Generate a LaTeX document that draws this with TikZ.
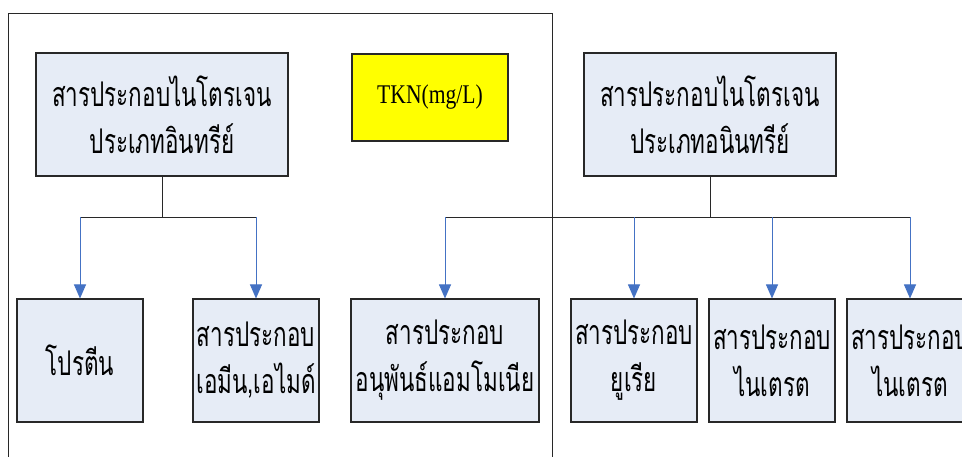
\documentclass[tikz,border=0pt]{standalone}
\usepackage{fontspec}
\setmainfont{Liberation Serif}
\newfontfamily\thai[Script=Thai,FakeStretch=0.66]{Loma}
\newfontfamily\tkn[FakeStretch=0.8]{Liberation Serif}
\usetikzlibrary{arrows.meta}
\definecolor{boxfill}{RGB}{230,236,246}
\definecolor{arrblue}{RGB}{68,114,196}
\definecolor{tknyellow}{RGB}{255,255,0}
\definecolor{linegray}{RGB}{40,40,40}
\tikzset{
  box/.style={draw=linegray, line width=1.1pt, fill=boxfill, inner sep=0pt, align=center, font=\thai\fontsize{34}{47}\selectfont},
  tree/.style={draw=linegray, line width=1pt},
  arr/.style={draw=arrblue, line width=1pt, -{Triangle[width=12pt,length=14pt]}},
}
\begin{document}
\begin{tikzpicture}[x=1pt,y=-1pt]
\useasboundingbox (0,0) rectangle (962,456);
\clip (0,0) rectangle (962,456);
\fill[white] (0,0) rectangle (962,456);
\draw[line width=1pt, draw=linegray] (8,470) -- (8,13) -- (552,13) -- (552,470);
\node[box, minimum width=252pt, minimum height=123pt] (A) at (162,114.5) {สารประกอบไนโตรเจน\\ประเภทอินทรีย์};
\node[box, fill=tknyellow, minimum width=156pt, minimum height=87pt, font=\tkn\fontsize{27}{32}\selectfont] (T) at (430,97.5) {TKN(mg/L)};
\node[box, minimum width=252pt, minimum height=123pt] (B) at (710,114.5) {สารประกอบไนโตรเจน\\ประเภทอนินทรีย์};
\node[box, minimum width=126pt, minimum height=123pt] (b1) at (80,360.5) {โปรตีน};
\node[box, minimum width=126pt, minimum height=123pt] (b2) at (256,360.5) {สารประกอบ\\เอมีน,เอไมด์};
\node[box, minimum width=188pt, minimum height=123pt] (b3) at (445,360.5) {สารประกอบ\\อนุพันธ์แอมโมเนีย};
\node[box, minimum width=126pt, minimum height=123pt] (b4) at (634,360.5) {สารประกอบ\\ยูเรีย};
\node[box, minimum width=126pt, minimum height=123pt] (b5) at (772,360.5) {สารประกอบ\\ไนเตรต};
\node[box, minimum width=126pt, minimum height=123pt] (b6) at (910,360.5) {สารประกอบ\\ไนเตรต};
\coordinate (jA) at (162,217);
\coordinate (jB) at (710,217);
\draw[tree] (A.south) -- (jA);
\draw[tree] (b1.north |- jA) -- (b2.north |- jA);
\draw[tree] (B.south) -- (jB);
\draw[tree] (b3.north |- jB) -- (b6.north |- jB);
\draw[arr] (b1.north |- jA) -- (b1.north);
\draw[arr] (b2.north |- jA) -- (b2.north);
\draw[arr] (b3.north |- jB) -- (b3.north);
\draw[arr] (b4.north |- jB) -- (b4.north);
\draw[arr] (b5.north |- jB) -- (b5.north);
\draw[arr] (b6.north |- jB) -- (b6.north);
\end{tikzpicture}
\end{document}
